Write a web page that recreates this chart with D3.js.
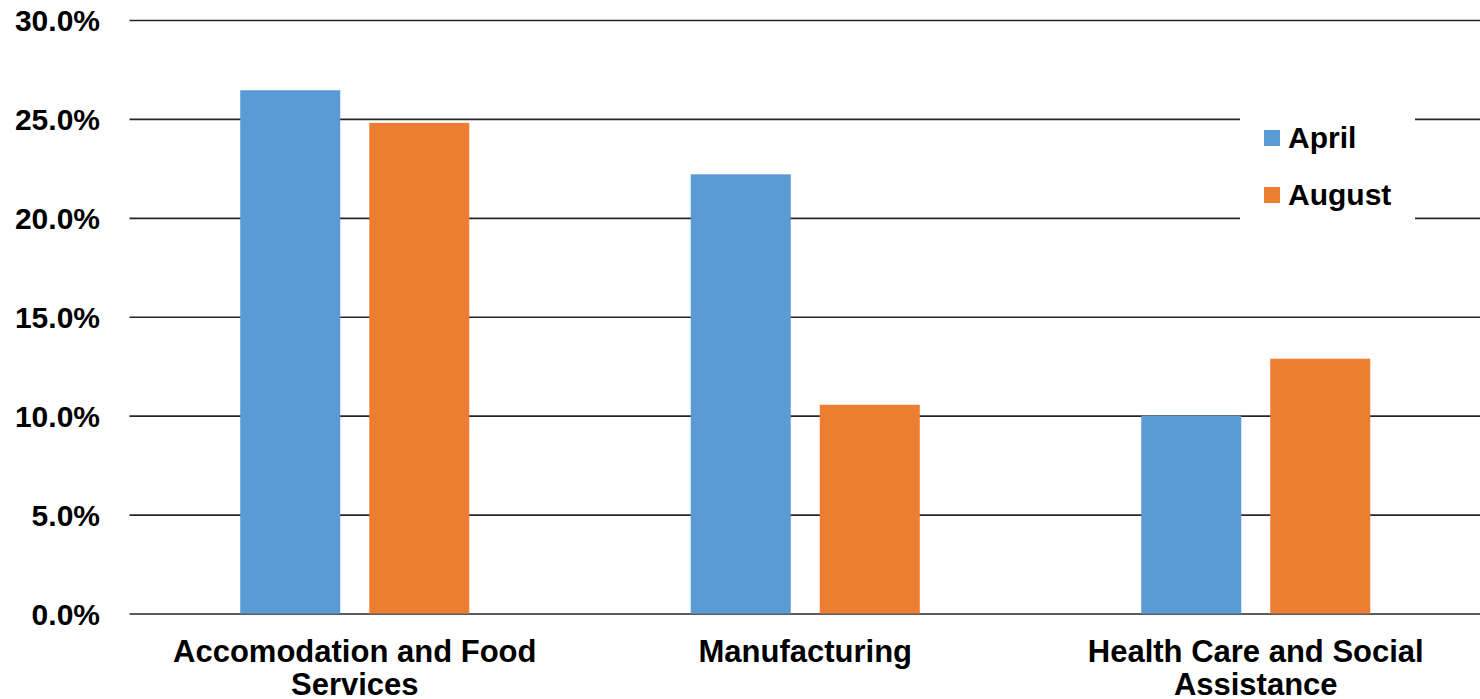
<!DOCTYPE html>
<html>
<head>
<meta charset="utf-8">
<script src="https://cdn.jsdelivr.net/npm/d3@7"></script>
<style>
  html, body { margin: 0; padding: 0; background: #ffffff; }
  svg { display: block; font-family: "Liberation Sans", Arial, Helvetica, sans-serif; }
</style>
</head>
<body>
<svg id="chart" width="1480" height="699"></svg>
<script>
const categories = ["Accomodation and Food Services", "Manufacturing", "Health Care and Social Assistance"];
const seriesNames = ["April", "August"];
const aprilValues = [0.2645, 0.222, 0.100];
const augustValues = [0.248, 0.1055, 0.1288];
const tickValues = [0, 0.05, 0.10, 0.15, 0.20, 0.25, 0.30];
const colors = ["#5B9BD5", "#ED7D31"];

const svg = d3.select("#chart");
const W = 1480, H = 699;
const plotLeft = 129.5, plotRight = 1481, plotTop = 20, plotBottom = 613.5;

const y = d3.scaleLinear().domain([0, 0.30]).range([plotBottom, plotTop]);
const x0 = d3.scaleBand().domain(categories).range([plotLeft, plotRight]).padding(0);
const pad = x0.bandwidth() * 0.2458;
const x1 = d3.scaleBand().domain(seriesNames).range([pad, x0.bandwidth() - pad]).paddingInner(0.2248).paddingOuter(0);
const color = d3.scaleOrdinal().domain(seriesNames).range(colors);

const rows = categories.map((c, i) => ({ cat: c, vals: [
  { s: "April", v: aprilValues[i] },
  { s: "August", v: augustValues[i] }
]}));

// gridlines
const grid = svg.append("g")
  .attr("transform", `translate(${plotLeft},0)`)
  .call(d3.axisLeft(y).tickValues(tickValues).tickSize(-(plotRight - plotLeft)).tickFormat(""));
grid.select(".domain").remove();
grid.selectAll("line").attr("stroke", "#262626").attr("stroke-width", 1.6);

// tick labels
const yAxis = svg.append("g")
  .attr("transform", `translate(${plotLeft},0)`)
  .call(d3.axisLeft(y).tickValues(tickValues).tickSize(0).tickPadding(29.5).tickFormat(d3.format(".1%")));
yAxis.select(".domain").remove();
yAxis.selectAll("text")
  .attr("font-size", 30).attr("font-weight", "bold").attr("fill", "#000")
  .attr("font-family", "Liberation Sans, Arial, sans-serif")
  .attr("dy", "0.35em");

// bars
const groups = svg.append("g").selectAll("g").data(rows).join("g")
  .attr("transform", d => `translate(${x0(d.cat)},0)`);
groups.selectAll("rect").data(d => d.vals).join("rect")
  .attr("x", d => x1(d.s))
  .attr("width", x1.bandwidth())
  .attr("y", d => y(d.v))
  .attr("height", d => y(0) - y(d.v))
  .attr("fill", d => color(d.s));

// category labels with wrapping
const xAxis = svg.append("g")
  .attr("transform", `translate(0,${plotBottom})`)
  .call(d3.axisBottom(x0).tickSize(0).tickPadding(0));
xAxis.select(".domain").remove();
xAxis.selectAll("text").each(function(d) {
  const t = d3.select(this);
  t.text(null).attr("y", 0).attr("dy", null)
    .attr("font-size", 31).attr("font-weight", "bold").attr("fill", "#000")
    .attr("font-family", "Liberation Sans, Arial, sans-serif");
  const words = d.split(" ");
  const maxW = 430;
  let line = [];
  let lineNo = 0;
  let tspan = t.append("tspan").attr("x", 0).attr("y", 48);
  words.forEach(w => {
    line.push(w);
    tspan.text(line.join(" "));
    if (tspan.node().getComputedTextLength() > maxW && line.length > 1) {
      line.pop();
      tspan.text(line.join(" "));
      line = [w];
      lineNo++;
      tspan = t.append("tspan").attr("x", 0).attr("y", 48 + lineNo * 33).text(w);
    }
  });
});

// legend
const legend = svg.append("g");
legend.append("rect").attr("x", 1240).attr("y", 100).attr("width", 175).attr("height", 130).attr("fill", "#fff");
const li = legend.selectAll("g.item").data(seriesNames).join("g").attr("class", "item")
  .attr("transform", (d, i) => `translate(1264,${130 + i * 57})`);
li.append("rect").attr("width", 16).attr("height", 16).attr("fill", d => color(d));
li.append("text").attr("x", 24).attr("y", 18)
  .attr("font-size", 30).attr("font-weight", "bold").attr("fill", "#000")
  .text(d => d);
</script>
</body>
</html>
